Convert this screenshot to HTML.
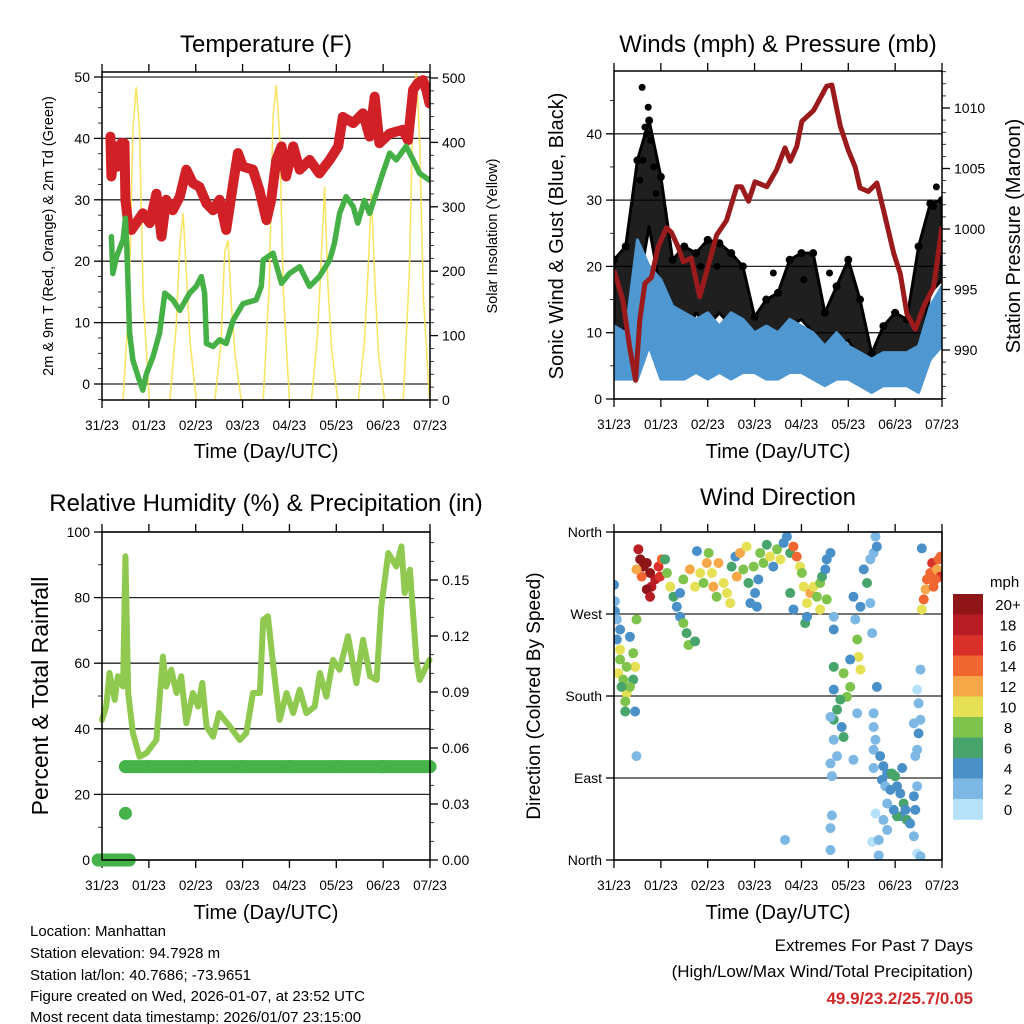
<!DOCTYPE html>
<html><head><meta charset="utf-8"><style>
html,body{margin:0;padding:0;background:#fff;}
svg{display:block;font-family:"Liberation Sans",sans-serif;}
</style></head><body>
<svg id="chart" width="1024" height="1024" viewBox="0 0 1024 1024" xmlns="http://www.w3.org/2000/svg">
<rect width="1024" height="1024" fill="#fff"/>
<text x="266" y="52" font-size="24" text-anchor="middle">Temperature (F)</text>
<text x="778" y="52" font-size="24" text-anchor="middle">Winds (mph) &amp; Pressure (mb)</text>
<text x="266" y="511" font-size="24" text-anchor="middle">Relative Humidity (%) &amp; Precipitation (in)</text>
<text x="778" y="505" font-size="24" text-anchor="middle">Wind Direction</text>
<text transform="translate(53,236) rotate(-90)" font-size="14.5" text-anchor="middle">2m &amp; 9m T (Red, Orange) &amp; 2m Td (Green)</text>
<text transform="translate(497,236) rotate(-90)" font-size="14.5" text-anchor="middle">Solar Insolation (Yellow)</text>
<text transform="translate(563,236) rotate(-90)" font-size="20" text-anchor="middle">Sonic Wind &amp; Gust (Blue, Black)</text>
<text transform="translate(1020,236) rotate(-90)" font-size="20" text-anchor="middle">Station Pressure (Maroon)</text>
<text transform="translate(48,696) rotate(-90)" font-size="23" text-anchor="middle">Percent &amp; Total Rainfall</text>
<text transform="translate(540,696) rotate(-90)" font-size="19" text-anchor="middle">Direction (Colored By Speed)</text>
<text x="266" y="458" font-size="20" text-anchor="middle">Time (Day/UTC)</text>
<text x="778" y="458" font-size="20" text-anchor="middle">Time (Day/UTC)</text>
<text x="266" y="919" font-size="20" text-anchor="middle">Time (Day/UTC)</text>
<text x="778" y="919" font-size="20" text-anchor="middle">Time (Day/UTC)</text>
<g font-size="15">
<text x="30" y="936">Location: Manhattan</text>
<text x="30" y="958">Station elevation: 94.7928 m</text>
<text x="30" y="980">Station lat/lon: 40.7686; -73.9651</text>
<text x="30" y="1001">Figure created on Wed, 2026-01-07, at 23:52 UTC</text>
<text x="30" y="1022">Most recent data timestamp: 2026/01/07 23:15:00</text>
</g>
<text x="973" y="951" font-size="17" text-anchor="end">Extremes For Past 7 Days</text>
<text x="973" y="977" font-size="17" text-anchor="end">(High/Low/Max Wind/Total Precipitation)</text>
<text x="973" y="1004" font-size="17" font-weight="bold" fill="#d12a2a" text-anchor="end">49.9/23.2/25.7/0.05</text>
</svg>
<script>
// ---- data ----
const dayLabels=["31/23","01/23","02/23","03/23","04/23","05/23","06/23","07/23"];
const tempDay=[0.18,0.2,0.27,0.34,0.41,0.48,0.5,0.55,0.63,0.73,0.87,1.02,1.16,1.27,1.37,1.51,1.66,1.8,1.94,2.08,2.23,2.37,2.51,2.65,2.8,2.9,3.01,3.22,3.36,3.51,3.61,3.72,3.83,3.93,4.08,4.22,4.43,4.64,4.86,5.04,5.14,5.36,5.57,5.71,5.82,5.92,6.14,6.42,6.53,6.64,6.74,6.85,6.92,6.99];
const tempVal=[40.3,33.8,38.7,35.4,39.2,39.2,30,26.7,25.1,26.2,27.8,26.2,31,24,30,28.3,30.5,34.9,32.7,32.1,29.4,28.3,30,25.1,32.7,37.6,35.4,34.9,31.6,26.7,30,36.5,38.7,33.8,38.7,34.9,36.5,34.3,36.5,38.7,43.5,42.5,44.1,40.3,46.8,39.2,40.8,41.4,39.7,47.9,49,49.5,47.9,45.7];
const dewDay=[0.2,0.23,0.31,0.45,0.5,0.53,0.59,0.66,0.77,0.87,0.95,1.09,1.23,1.34,1.51,1.66,1.87,2.01,2.12,2.19,2.23,2.37,2.51,2.65,2.8,3.01,3.29,3.4,3.44,3.65,3.83,4.0,4.22,4.43,4.64,4.86,4.96,5.07,5.21,5.36,5.46,5.6,5.71,5.85,5.99,6.14,6.28,6.49,6.64,6.78,6.99];
const dewVal=[24,18,20.7,23.5,27,22.4,8.3,3.9,1.2,-1,1.7,4.5,8.3,14.8,13.7,12,14.8,15.9,17.5,14.8,6.6,6.1,7.2,6.6,10.4,13.1,13.7,15.9,20.2,21.3,16.4,18,19.1,15.9,17.5,20.2,22.9,27.8,30.5,28.9,26.2,29.9,27.8,31,34.3,37.6,36.5,38.7,36.5,34.3,33.2];
const solarDay=[0.45,0.58,0.66,0.73,0.8,0.88,1.01, 1.45,1.58,1.66,1.73,1.8,1.88,2.01, 2.41,2.54,2.62,2.69,2.76,2.84,2.97, 3.44,3.57,3.65,3.72,3.79,3.87,4.0, 4.47,4.6,4.68,4.75,4.82,4.9,5.03, 5.47,5.6,5.68,5.75,5.82,5.9,6.03, 6.43,6.56,6.64,6.71,6.78,6.86,6.99];
const solarVal=[0,160,420,486,420,160,0, 0,110,240,290,200,90,0, 0,90,230,248,150,70,0, 0,180,440,489,410,170,0, 0,100,220,331,180,80,0, 0,90,200,321,190,70,0, 0,200,470,509,400,160,0];
const gustDay=[0,0.25,0.5,0.75,1,1.25,1.5,1.75,2,2.25,2.5,2.75,3,3.25,3.5,3.75,4,4.25,4.5,4.75,5,5.25,5.5,5.75,6,6.25,6.5,6.75,7];
const gustHigh=[21,23,36,42,33.5,21,23,22,24,23.5,22,20,12.4,15,16,21,22,22,13,17,21,15,6.9,11,13,12,23,29.5,30];
const gustLow=[7.4,11,16,26,16,9.4,9.4,13,11,13,11,10,6.9,7.9,7.9,11,12,10,6.9,7.9,8.9,5.9,3.4,4.9,5.9,4.9,5.9,16,18];
const windHigh=[11,10,24,20,18,14,13,12,13,11,13,12,10,11,10,12,11,10,8,10,8,7,6,7,7,7,8,14,17];
const windLow=[3,3,3,8,3,3,3,4,3,4,3,4,4,3,3,4,4,3,2,3,3,2,1,2,2,2,1,6,8];
const gustPeakDay=[0.6,0.73,0.66,0.7,0.78,0.62,1.85,2.2,3.4,4.6,4.05,6.88,6.82,0.55,0.85,0.9];
const gustPeakVal=[47,44,41,40,39,36,20,20,19,19,18,32,29,33,35,31];
const presDay=[0,0.19,0.33,0.46,0.55,0.66,0.8,0.94,1.12,1.23,1.37,1.48,1.65,1.83,1.97,2.19,2.4,2.62,2.72,2.87,3.01,3.26,3.47,3.65,3.76,3.9,4.01,4.26,4.54,4.65,4.83,5.0,5.15,5.25,5.43,5.61,5.75,5.97,6.11,6.25,6.43,6.61,6.82,7.0];
const presVal=[996.6,994.1,990.3,987.5,992.5,995.5,996,998.5,1000.1,999.7,998.5,997.3,997.6,994.4,996.4,999.5,1000.7,1003.5,1003.5,1002.3,1003.9,1003.5,1004.9,1006.7,1005.6,1006.8,1008.9,1009.8,1011.8,1011.9,1008.5,1006.5,1005.1,1003.4,1003.1,1003.8,1001.6,998,996.3,993,991.7,993.6,995.2,1000.2];
const rhDay=[0,0.09,0.16,0.27,0.34,0.45,0.5,0.56,0.66,0.8,0.95,1.16,1.3,1.37,1.48,1.59,1.69,1.8,1.94,2.05,2.14,2.23,2.37,2.5,2.73,2.94,3.08,3.22,3.37,3.44,3.54,3.65,3.79,3.94,4.08,4.22,4.36,4.54,4.65,4.79,4.93,5.07,5.25,5.43,5.57,5.72,5.86,5.96,6.11,6.28,6.39,6.46,6.57,6.71,6.78,6.99];
const rhVal=[42.7,46.8,57,48.8,56,52.9,92.6,50.9,38.7,31.5,32.6,36.6,62,52.9,58,50.9,56,41.7,50.9,46.8,54,40.7,37.6,44.8,40.7,36.6,38.7,50.9,50.9,73.2,74.3,60,42.7,50.9,44.8,51.9,44.8,46.8,57,49.8,61,58,68.2,53.9,67.1,56,54.9,77.3,93.6,89.5,95.6,81.4,88.5,61,54.9,61];
const precipDay=[-0.08,0.1,0.3,0.58,0.5,0.5,1,2,3,4,5,6,7];
const precipVal=[0,0,0,0,0.025,0.05,0.05,0.05,0.05,0.05,0.05,0.05,0.05];
const dirDay=[0,0.02,0.02,0.06,0.13,0.06,0.13,0.13,0.09,0.2,0.27,0.24,0.24,0.34,0.41,0.45,0.41,0.34,0.45,0.48,0.48,0.16,0.27,
0.52,0.56,0.63,0.7,0.77,0.8,0.88,0.95,0.98,0.59,0.7,0.77,0.48,1.02,
1.09,1.13,1.2,1.27,1.34,1.41,1.48,1.55,1.59,1.73,1.41,1.48,1.62,1.73,1.77,1.84,1.91,1.98,2.02,2.09,2.12,2.19,2.23,2.34,2.41,2.48,2.51,2.59,2.62,2.69,2.76,2.83,2.87,2.91,2.98,3.01,3.05,3.08,3.12,3.19,3.26,3.33,3.4,3.48,3.55,3.62,3.69,3.76,3.83,3.9,3.97,4.01,3.76,3.83,4.05,4.12,4.19,4.08,4.12,4.26,4.33,4.4,4.44,4.51,4.54,4.62,4.4,4.54,
4.69,4.69,5.11,5.15,5.19,5.22,5.26,5.04,4.9,5.04,4.97,4.83,4.76,4.69,4.86,4.9,4.69,4.69,4.62,4.69,4.76,4.62,4.65,4.65,4.62,4.62,5.11,3.65,5.19,5.26,5.33,5.4,5.47,5.54,5.58,5.61,5.47,5.51,5.54,5.54,5.58,5.54,5.54,5.58,5.51,5.65,5.65,
5.68,5.75,5.83,5.93,6.0,5.72,5.79,5.9,6.04,6.11,6.18,6.22,6.11,6.25,6.32,6.04,5.97,5.83,5.75,5.83,6.15,6.4,6.47,6.43,6.4,6.47,6.54,
6.47,6.5,6.54,6.5,6.47,6.43,6.4,6.54,6.57,5.61,
6.57,6.61,6.65,6.68,6.75,6.79,6.82,6.89,6.93,6.97,6.97,6.86];
const dirDeg=[302,284,273,264,253,242,231,220,205,198,183,174,163,245,227,212,198,190,163,264,114,190,212,
341,330,322,326,315,300,308,322,311,311,297,289,319,330,
330,315,300,289,278,267,260,249,236,240,293,308,319,300,339,315,304,326,337,315,300,289,326,304,293,282,322,333,311,337,319,344,304,282,322,293,278,308,337,326,346,333,322,341,330,348,355,337,344,333,322,315,293,275,300,282,293,260,267,300,289,304,311,319,330,337,275,286,
267,253,289,264,242,223,209,220,205,190,179,176,165,154,146,135,187,212,157,132,114,106,92,49,35,11,110,22,161,278,319,304,330,337,355,344,282,249,161,146,132,121,101,51,20,22,5,
114,103,95,95,92,88,81,77,81,73,62,55,48,44,40,48,55,62,44,33,101,70,81,55,26,7,4,
187,172,154,139,121,114,150,209,342,190,
275,286,297,308,315,326,300,319,330,333,311,308];
const dirSpd=[4,2,4,2,4,4,10,8,10,8,10,8,6,4,8,10,6,8,4,8,2,6,8,
18,20,20,20,20,18,18,16,16,14,20,18,12,14,
6,8,10,6,4,4,8,6,8,6,4,8,12,10,4,10,8,12,8,10,12,8,12,10,10,10,6,4,12,12,8,10,6,4,8,4,4,4,8,8,6,10,4,8,10,4,4,6,14,14,10,8,6,4,10,10,12,6,4,10,8,8,6,4,4,4,10,8,
2,4,4,2,8,10,10,4,8,8,8,6,6,6,4,6,4,6,2,2,2,2,2,2,2,2,2,2,2,4,4,6,2,2,2,4,2,2,2,2,2,2,2,0,0,2,2,
4,4,4,6,6,4,2,4,4,4,6,4,4,6,4,6,4,2,2,2,4,4,2,4,2,0,2,
0,2,2,4,2,2,2,2,4,4,
10,14,12,14,14,16,14,12,14,14,16,14];
const speedLabels=["20+","18","16","14","12","10","8","6","4","2","0"];
const speedColors=["#8f1519","#b81d24","#d9302a","#ef6630","#f6a848","#e6e055","#7ec34b","#47a56b","#4a90c8","#7db8e4","#b5e2f8"];
const tempTicks=[0,10,20,30,40,50];
const solarTicks=[0,100,200,300,400,500];
const windTicks=[0,10,20,30,40];
const presTicks=[990,995,1000,1005,1010];
const rhTicks=[0,20,40,60,80,100];
const precipTicks=[0,0.03,0.06,0.09,0.12,0.15];
const dirTicks=[0,90,180,270,360];
const dirLabels=["North","East","South","West","North"];

// ---- helpers ----
const NS="http://www.w3.org/2000/svg";
const svg=document.getElementById('chart');
function el(tag,attrs,parent){const e=document.createElementNS(NS,tag);for(const k in attrs)e.setAttribute(k,attrs[k]);(parent||svg).appendChild(e);return e;}
const P1={x0:102,x1:430,y0:72,y1:400},P2={x0:614,x1:942,y0:71,y1:399},P3={x0:102,x1:430,y0:532,y1:860},P4={x0:614,x1:942,y0:532,y1:860};
function xd(P,d){return P.x0+d*(P.x1-P.x0)/7;}
const yT=v=>384-v*6.14, yS=v=>400-v*0.644, yW=v=>399-v*6.63, yP=v=>350-(v-990)*12.1;
const yR=v=>860-v*3.28, yPr=v=>860-v*1866.7, yD=v=>860-v*328/360;
function pts(P,days,vals,fy){return days.map((d,i)=>xd(P,d).toFixed(1)+','+fy(vals[i]).toFixed(1)).join(' ');}

function frame(P,prefix){
  const g=el('g',{});
  
  
  for(let i=0;i<dayLabels.length;i++){
    const x=xd(P,i);
    const t1=el('line',{x1:x,x2:x,y1:P.y1,y2:P.y1+8,stroke:'#000','stroke-width':1.3},g);
    
    
    const t2=el('line',{x1:x,x2:x,y1:P.y0,y2:P.y0-8,stroke:'#000','stroke-width':1.3},g);
    
    
    const lb=el('text',{x:x,y:P.y1+30,'font-size':13.5,'text-anchor':'middle'},g);
    lb.textContent=dayLabels[i];
    
    
  }
  return g;
}
function yaxis(P,prefix,ticks,labels,fy,side,grid,minorStep,minMax,fs){
  const g=el('g',{});
  
  
  const xa= side==='left'?P.x0:P.x1, dir= side==='left'?-1:1;
  if(minorStep){for(let v=minMax[0];v<=minMax[1]+1e-9;v+=minorStep){const y=fy(v);if(y<P.y0-0.5||y>P.y1+0.5)continue;
    const m=el('line',{x1:xa,x2:xa+dir*4,y1:y,y2:y,stroke:'#000','stroke-width':0.8},g);
    
    }}
  ticks.forEach((v,i)=>{const y=fy(v);
    if(grid){const gl=el('line',{x1:P.x0,x2:P.x1,y1:y,y2:y,stroke:'#000','stroke-width':1.3,opacity:0.85},g);
      
      }
    const t=el('line',{x1:xa,x2:xa+dir*8,y1:y,y2:y,stroke:'#000','stroke-width':1.3},g);
    
    
    const lb=el('text',{x:xa+dir*12,y:y+5,'font-size':fs||14,'text-anchor':side==='left'?'end':'start'},g);
    lb.textContent=labels[i];
    
    });
}
function box(P,name){const r=el('rect',{x:P.x0,y:P.y0,width:P.x1-P.x0,height:P.y1-P.y0,fill:'none',stroke:'#000','stroke-width':1.5});
  
  }
function clip(P,id){const c=el('clipPath',{id:id});el('rect',{x:P.x0,y:P.y0,width:P.x1-P.x0,height:P.y1-P.y0},c);}
clip(P1,'c1');clip(P2,'c2');clip(P3,'c3');clip(P4,'c4');

// ---- Panel 1: temperature ----
frame(P1,'temperature');
yaxis(P1,'temperature-y',tempTicks,tempTicks.map(String),yT,'left',true,2.5,[-2.5,50],14);
yaxis(P1,'solar-y',solarTicks,solarTicks.map(String),yS,'right',false,20,[0,500],14);
const g1=el('g',{'clip-path':'url(#c1)'});


const solarLine=el('polyline',{points:pts(P1,solarDay,solarVal,yS),fill:'none',stroke:'#f7df4a','stroke-width':1.6,opacity:0.85},g1);


const tempLine=el('polyline',{points:pts(P1,tempDay,tempVal,yT),fill:'none',stroke:'#d22027','stroke-width':10,'stroke-linejoin':'round','stroke-linecap':'round'},g1);


const dewLine=el('polyline',{points:pts(P1,dewDay,dewVal,yT),fill:'none',stroke:'#45b045','stroke-width':5.5,'stroke-linejoin':'round','stroke-linecap':'round'},g1);


box(P1,'temperature-plot-frame');

// ---- Panel 2: winds ----
frame(P2,'winds');
yaxis(P2,'wind-y',windTicks,windTicks.map(String),yW,'left',true,5,[0,45],14);
yaxis(P2,'pressure-y',presTicks,presTicks.map(String),yP,'right',false,1,[986,1013],14);
const g2=el('g',{'clip-path':'url(#c2)'});


const gustPoly=pts(P2,gustDay,gustHigh,yW)+' '+pts(P2,gustDay.slice().reverse(),gustLow.slice().reverse(),yW);
const gustBand=el('polygon',{points:gustPoly,fill:'#000','fill-opacity':0.88,stroke:'#000','stroke-width':3,'stroke-linejoin':'round'},g2);


gustDay.forEach((d,i)=>{const c=el('circle',{cx:xd(P2,d),cy:yW(gustHigh[i]),r:4,fill:'#000'},g2);
  
  });
gustPeakDay.forEach((d,i)=>{const c=el('circle',{cx:xd(P2,d),cy:yW(gustPeakVal[i]),r:3.5,fill:'#000'},g2);
  
  });
const windPoly=pts(P2,gustDay,windHigh,yW)+' '+pts(P2,gustDay.slice().reverse(),windLow.slice().reverse(),yW);
const windBand=el('polygon',{points:windPoly,fill:'#4f97d0',stroke:'#4f97d0','stroke-width':3,'stroke-linejoin':'round'},g2);


const presLine=el('polyline',{points:pts(P2,presDay,presVal,yP),fill:'none',stroke:'#9b1a1c','stroke-width':5,'stroke-linejoin':'round'},g2);


box(P2,'winds-plot-frame');

// ---- Panel 3: humidity ----
frame(P3,'humidity');
yaxis(P3,'humidity-y',rhTicks,rhTicks.map(String),yR,'left',true,10,[0,100],14);
yaxis(P3,'precip-y',precipTicks,precipTicks.map(v=>v.toFixed(2)),yPr,'right',false,0.01,[0,0.17],14);
const g3=el('g',{});


const rhLine=el('polyline',{points:pts(P3,rhDay,rhVal,yR),fill:'none',stroke:'#8fc94f','stroke-width':6,'stroke-linejoin':'round','stroke-linecap':'round'},g3);


for(let i=0;i<precipDay.length;i++){
  if(i>0&&precipVal[i]===precipVal[i-1]){const s=el('line',{x1:xd(P3,precipDay[i-1]),x2:xd(P3,precipDay[i]),y1:yPr(precipVal[i]),y2:yPr(precipVal[i]),stroke:'#46b24a','stroke-width':13,'stroke-linecap':'round'},g3);
    
    }
  const c=el('circle',{cx:xd(P3,precipDay[i]),cy:yPr(precipVal[i]),r:6.5,fill:'#46b24a'},g3);
  
  
}
box(P3,'humidity-plot-frame');

// ---- Panel 4: wind direction ----
frame(P4,'direction');
yaxis(P4,'direction-y',dirTicks,dirLabels,yD,'left',true,0,null,14);
const rr=el('line',{x1:P4.x1,x2:P4.x1,y1:P4.y0,y2:P4.y1,stroke:'#666','stroke-width':1.5});


const g4=el('g',{'clip-path':'url(#c4)'});


function spdColor(s){const idx=Math.min(10,Math.max(0,10-Math.floor(s/2)));return speedColors[idx];}
dirDay.forEach((d,i)=>{const c=el('circle',{cx:xd(P4,d),cy:yD(dirDeg[i]),r:5,fill:spdColor(dirSpd[i])},g4);
  
  });
box(P4,'direction-plot-frame');

// colorbar
const cb=el('g',{});


const cbt=el('text',{x:990,y:587,'font-size':15,'text-anchor':'start'},cb);
cbt.textContent='mph';


speedLabels.forEach((lab,i)=>{const y=594+i*20.5;
  const r=el('rect',{x:953,y:y,width:30,height:20.8,fill:speedColors[i]},cb);
  
  
  const t=el('text',{x:1008,y:y+16,'font-size':15,'text-anchor':'middle'},cb);
  t.textContent=lab;
  
  });
</script>
</body></html>
